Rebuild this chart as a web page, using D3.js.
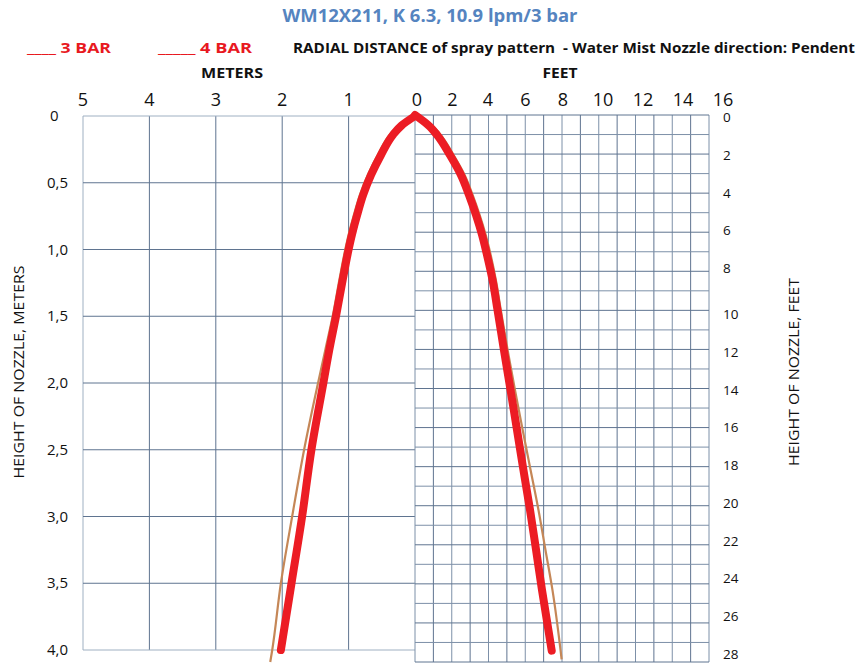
<!DOCTYPE html>
<html>
<head>
<meta charset="utf-8">
<script src="https://cdn.jsdelivr.net/npm/d3@7"></script>
<style>
  body { margin: 0; background: #fff; }
  text { font-family: "Open Sans", "Noto Sans", sans-serif; }
</style>
</head>
<body>
<div id="chart-area"></div>
<script>
// tick values
const meterCols = [5, 4, 3, 2, 1, 0];
const meterRows = [0, 0.5, 1.0, 1.5, 2.0, 2.5, 3.0, 3.5, 4.0];
const feetCols = d3.range(0, 17, 1);
const feetRows = d3.range(0, 29, 1);
const feetTopLabels = [0, 2, 4, 6, 8, 10, 12, 14, 16];
const feetSideLabels = [0, 2, 4, 6, 8, 10, 12, 14, 16, 18, 20, 22, 24, 26, 28];

// spray envelope, left half in meters [radius, height]
const bar3Meters = [[0, 0], [0.2, 0.07], [0.33, 0.14], [0.51, 0.29], [0.66, 0.44], [0.78, 0.59],
  [0.87, 0.74], [0.95, 0.89], [1.0, 1.0], [1.09, 1.23], [1.19, 1.5], [1.29, 1.75], [1.38, 2.0],
  [1.56, 2.5], [1.7, 3.0], [1.86, 3.5], [2.02, 4.0]];
const bar4Meters = [[0, 0], [0.24, 0.07], [0.38, 0.14], [0.56, 0.29], [0.71, 0.44], [0.83, 0.59],
  [0.92, 0.74], [1.0, 0.89], [1.05, 1.0], [1.14, 1.23], [1.24, 1.5], [1.35, 1.75], [1.46, 2.0],
  [1.67, 2.5], [1.85, 3.0], [2.02, 3.5], [2.15, 4.0], [2.18, 4.09]];

// right half in feet [radius, height]
const bar3Feet = [[0, 0], [0.71, 0.51], [1.2, 1.02], [1.9, 2.05], [2.5, 3.07], [2.94, 4.1],
  [3.32, 5.12], [3.65, 6.14], [3.92, 7.17], [4.22, 8.45], [4.49, 9.98], [4.84, 12.03],
  [5.2, 14.08], [5.55, 16.12], [5.9, 18.17], [6.26, 20.22], [6.59, 22.27], [6.91, 24.31], [7.44, 27.42]];
const bar4Feet = [[0, 0], [0.9, 0.51], [1.4, 1.02], [2.1, 2.05], [2.7, 3.07], [3.14, 4.1],
  [3.52, 5.12], [3.85, 6.14], [4.12, 7.17], [4.4, 8.45], [4.67, 9.98], [5.04, 12.03],
  [5.44, 14.08], [5.86, 16.12], [6.29, 18.17], [6.72, 20.22], [7.1, 22.27], [7.48, 24.31], [7.98, 27.86]];

const W = 866, H = 663;
const gridDark = "#5f7490";
const gridMid = "#7d90a8";
const gridLight = "#9fb0c2";

const svg = d3.select("#chart-area").append("svg")
  .attr("width", W).attr("height", H);

svg.append("rect").attr("width", W).attr("height", H).attr("fill", "#fff");

// scales
const xM = d3.scaleLinear().domain([5, 0]).range([83, 415]);
const yM = d3.scaleLinear().domain([0, 4]).range([116, 650]);
const xF = d3.scaleLinear().domain([0, 16]).range([415, 709]);
const yF = d3.scaleLinear().domain([0, 28]).range([115, 662]);
// label positions drift a little from the grid in the original
const xFLabel = d3.scaleLinear().domain([0, 4, 8, 16]).range([417, 488, 563, 723]);
const yFLabel = d3.scaleLinear().domain([0, 8, 10, 28]).range([117, 268, 314, 654]);

// meters grid
const leftGrid = svg.append("g");
leftGrid.selectAll(".vm").data(meterCols.filter(d => d > 0)).enter()
  .append("line")
  .attr("x1", d => xM(d)).attr("x2", d => xM(d))
  .attr("y1", yM(0)).attr("y2", yM(4))
  .attr("stroke", d => d == 5 ? gridLight : gridDark)
  .attr("stroke-width", 1);
leftGrid.selectAll(".hm").data(meterRows).enter()
  .append("line")
  .attr("x1", xM(5)).attr("x2", xM(0))
  .attr("y1", d => yM(d)).attr("y2", d => yM(d))
  .attr("stroke", d => (d == 0 || d == 4) ? gridLight : gridDark)
  .attr("stroke-width", 1);

// feet grid
const rightGrid = svg.append("g");
rightGrid.selectAll(".vf").data(feetCols).enter()
  .append("line")
  .attr("x1", d => xF(d)).attr("x2", d => xF(d))
  .attr("y1", yF(0)).attr("y2", yF(28))
  .attr("stroke", (d, i) => i % 2 ? gridDark : gridMid)
  .attr("stroke-width", 1);
rightGrid.selectAll(".hf").data(feetRows).enter()
  .append("line")
  .attr("x1", xF(0)).attr("x2", xF(16))
  .attr("y1", d => yF(d)).attr("y2", d => yF(d))
  .attr("stroke", (d, i) => i % 2 ? gridMid : gridDark)
  .attr("stroke-width", 1);

// curves
const lineM = d3.line().x(d => xM(d[0])).y(d => yM(d[1])).curve(d3.curveMonotoneY);
const lineF = d3.line().x(d => xF(d[0])).y(d => yF(d[1])).curve(d3.curveMonotoneY);

svg.append("path").attr("d", lineM(bar4Meters))
  .attr("fill", "none").attr("stroke", "#c58757").attr("stroke-width", 2.2);
svg.append("path").attr("d", lineF(bar4Feet))
  .attr("fill", "none").attr("stroke", "#c58757").attr("stroke-width", 2.2);
svg.append("path").attr("d", lineM(bar3Meters))
  .attr("fill", "none").attr("stroke", "#ec1c24").attr("stroke-width", 8)
  .attr("stroke-linecap", "round").attr("stroke-linejoin", "round");
svg.append("path").attr("d", lineF(bar3Feet))
  .attr("fill", "none").attr("stroke", "#ec1c24").attr("stroke-width", 8)
  .attr("stroke-linecap", "round").attr("stroke-linejoin", "round");

// top tick labels
svg.selectAll(".tm").data(meterCols).enter()
  .append("text")
  .attr("x", d => xM(d) + (d == 0 ? 2 : 0)).attr("y", 106)
  .attr("text-anchor", "middle")
  .attr("font-size", 18).attr("fill", "#111")
  .text(d => d);
svg.selectAll(".tf").data(feetTopLabels.filter(d => d > 0)).enter()
  .append("text")
  .attr("x", d => xFLabel(d)).attr("y", 106)
  .attr("text-anchor", "middle")
  .attr("font-size", 18).attr("fill", "#111")
  .text(d => d);

// left tick labels
svg.selectAll(".lm").data(meterRows).enter()
  .append("text")
  .attr("x", d => d == 0 ? 50 : 47).attr("y", d => yM(d) + 5)
  .attr("font-size", 15).attr("fill", "#111")
  .text(d => d == 0 ? "0" : d3.format(".1f")(d).replace(".", ","));

// right tick labels
svg.selectAll(".rf").data(feetSideLabels).enter()
  .append("text")
  .attr("x", 723).attr("y", d => yFLabel(d) + 5)
  .attr("font-size", 13.5).attr("fill", "#111")
  .text(d => d);

// titles
svg.append("text")
  .attr("x", 430).attr("y", 22).attr("text-anchor", "middle")
  .attr("font-size", 17).attr("font-weight", "bold").attr("fill", "#5584c0")
  .attr("textLength", 295).attr("lengthAdjust", "spacingAndGlyphs")
  .text("WM12X211, K 6.3, 10.9 lpm/3 bar");

const legend = [
  { x: 27, w: 84, text: "____ 3 BAR" },
  { x: 158, w: 94, text: "_____ 4 BAR" }
];
svg.selectAll(".lg").data(legend).enter()
  .append("text")
  .attr("x", d => d.x).attr("y", 53)
  .attr("font-size", 15).attr("font-weight", "bold").attr("fill", "#e8191f")
  .attr("textLength", d => d.w).attr("lengthAdjust", "spacingAndGlyphs")
  .text(d => d.text);

svg.append("text")
  .attr("x", 293).attr("y", 53)
  .attr("font-size", 14).attr("font-weight", "bold").attr("fill", "#111")
  .attr("textLength", 562).attr("lengthAdjust", "spacingAndGlyphs")
  .attr("xml:space", "preserve")
  .text("RADIAL DISTANCE of spray pattern  - Water Mist Nozzle direction: Pendent");

svg.append("text")
  .attr("x", 232).attr("y", 78).attr("text-anchor", "middle")
  .attr("font-size", 14).attr("font-weight", "bold").attr("fill", "#111")
  .attr("textLength", 62).attr("lengthAdjust", "spacingAndGlyphs")
  .text("METERS");
svg.append("text")
  .attr("x", 560).attr("y", 78).attr("text-anchor", "middle")
  .attr("font-size", 14).attr("font-weight", "bold").attr("fill", "#111")
  .attr("textLength", 35).attr("lengthAdjust", "spacingAndGlyphs")
  .text("FEET");

// side axis titles
svg.append("text")
  .attr("transform", "translate(24,372) rotate(-90)")
  .attr("text-anchor", "middle")
  .attr("font-size", 15).attr("fill", "#111")
  .attr("textLength", 213).attr("lengthAdjust", "spacingAndGlyphs")
  .text("HEIGHT OF NOZZLE, METERS");
svg.append("text")
  .attr("transform", "translate(799,372) rotate(-90)")
  .attr("text-anchor", "middle")
  .attr("font-size", 15).attr("fill", "#111")
  .attr("textLength", 188).attr("lengthAdjust", "spacingAndGlyphs")
  .text("HEIGHT OF NOZZLE, FEET");
</script>
</body>
</html>
